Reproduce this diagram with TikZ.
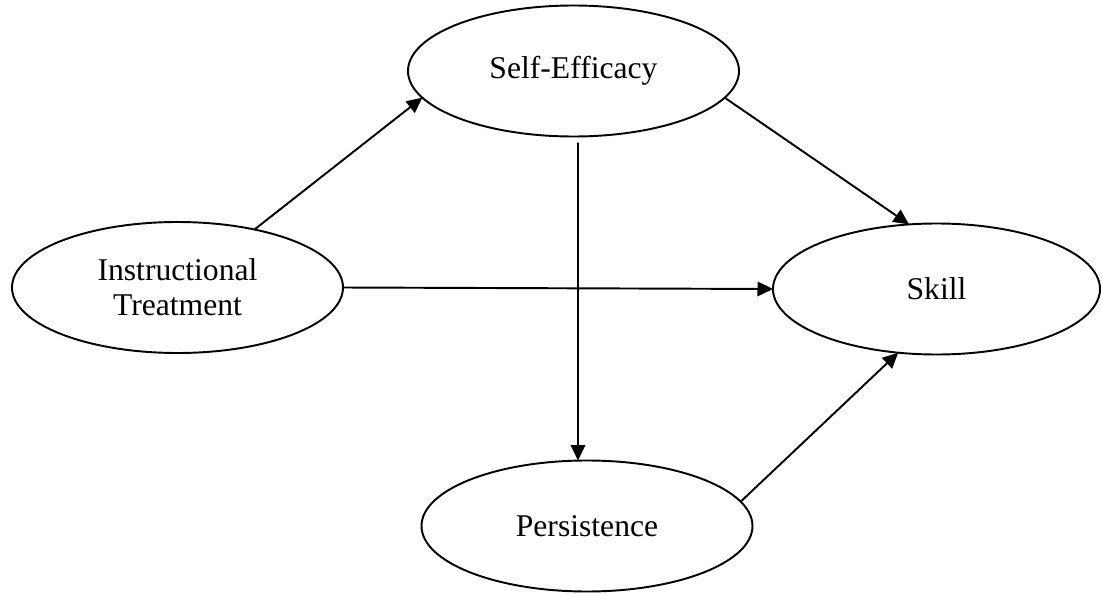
\documentclass[tikz,border=0pt]{standalone}
\usepackage{fontspec}
\setmainfont{Liberation Serif}
\usetikzlibrary{shapes.geometric,arrows.meta}

\tikzset{
  var/.style={draw, ellipse, inner sep=0pt, outer sep=0pt, line width=1.1pt,
    minimum width=6.62cm, minimum height=2.62cm, align=center,
    font=\fontsize{18}{20}\selectfont},
}

\begin{document}
\begin{tikzpicture}[line width=1.1pt, >={Triangle[length=0.31cm,width=0.29cm]}]

    \useasboundingbox (0,0) rectangle (22.04,11.88);

    % --------------------------------------------------------- %
    % ------------- variables
    % --------------------------------------------------------- %
    \node[var] (se) at (11.47,10.46) {Self-Efficacy};
    \node[var] (instr) at (3.55,6.13) {Instructional\\Treatment};
    \node[var, minimum width=6.54cm] (skill) at (18.73,6.10) {Skill};
    \node[var] (pers) at (11.74,1.36) {Persistence};

    % --------------------------------------------------------- %
    % ------------ paths
    % --------------------------------------------------------- %
    % --- from treatment
    \draw [->] (instr.37) -- (se.190.5);
    \draw [->] (instr.east) -- (skill.west);
    % --- from self-efficacy
    \draw [->] (se.-10.8) -- (skill.113.4);
    \draw [->] ([xshift=0.09cm,yshift=-0.12cm]se.south) -- ([xshift=-0.18cm]pers.north);
    % --- from persistence
    \draw [->] (pers.9.6) -- (skill.239.1);

\end{tikzpicture}
\end{document}
